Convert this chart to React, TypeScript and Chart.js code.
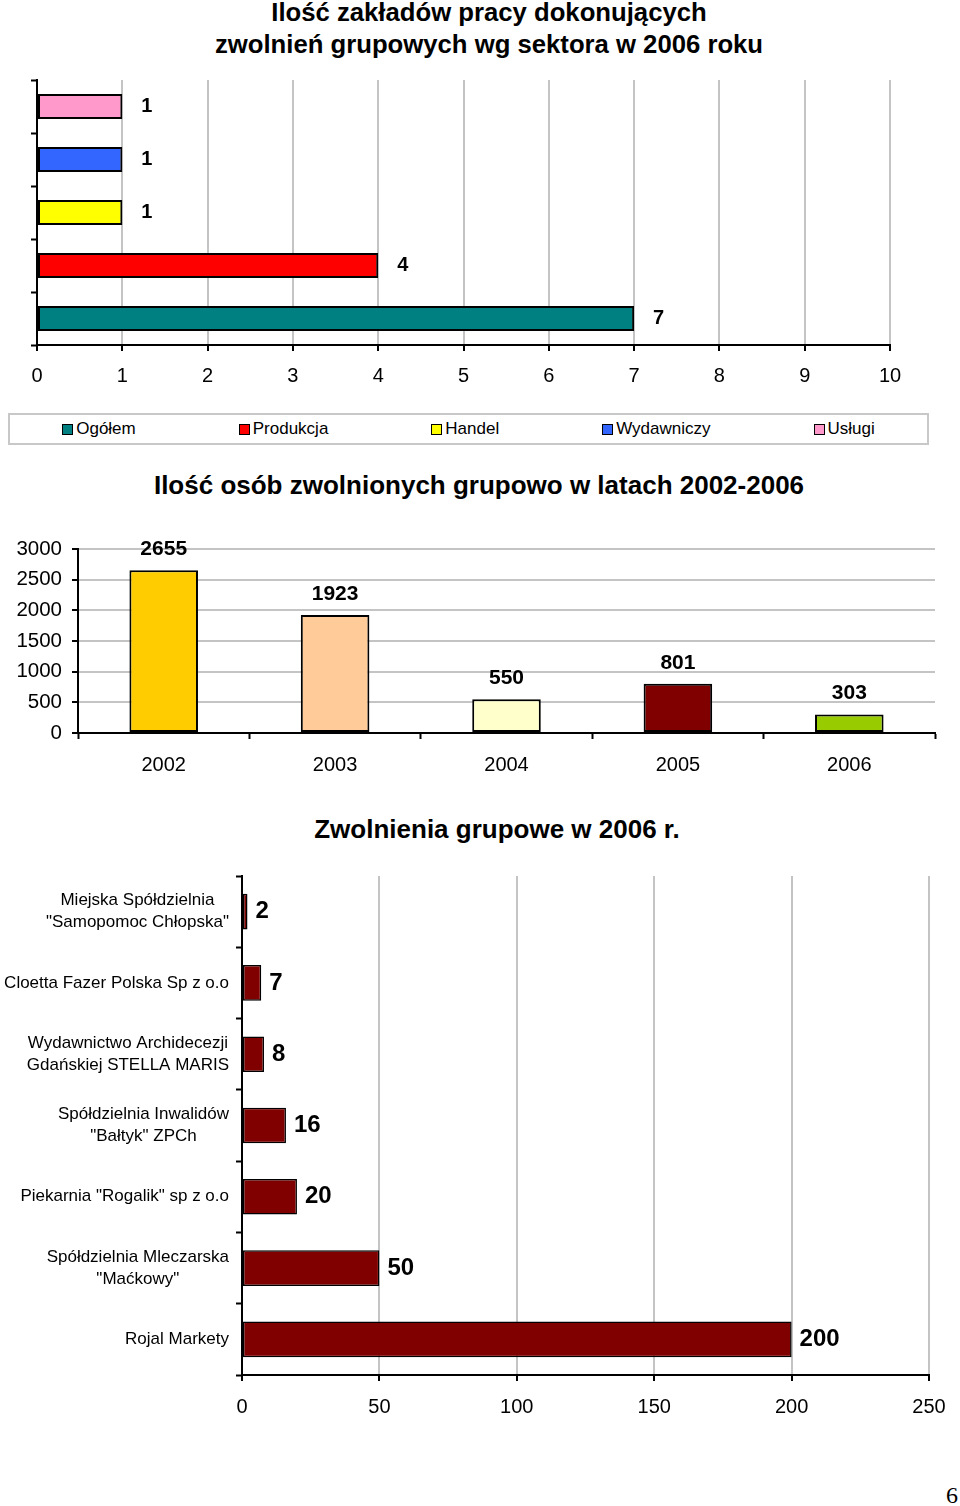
import React, { useEffect, useRef } from "react";
import { Chart, registerables } from "chart.js";

Chart.register(...registerables);

const FONT = "'Liberation Sans', Arial, Helvetica, sans-serif";

// ---- Chart 1: Ilość zakładów pracy wg sektora ----
const sectorTitle = ["Ilość zakładów pracy dokonujących", "zwolnień grupowych wg sektora w 2006 roku"];
const sectorNames = ["Ogółem", "Produkcja", "Handel", "Wydawniczy", "Usługi"];
const sectorValues = [7, 4, 1, 1, 1];
const sectorColors = ["#008080", "#FF0000", "#FFFF00", "#3366FF", "#FF99CC"];
const sectorAxisMax = 10;
const sectorAxisStep = 1;

// ---- Chart 2: Ilość osób zwolnionych 2002-2006 ----
const yearsTitle = "Ilość osób zwolnionych grupowo w latach 2002-2006";
const years = ["2002", "2003", "2004", "2005", "2006"];
const yearValues = [2655, 1923, 550, 801, 303];
const yearColors = ["#FFCC00", "#FFCC99", "#FFFFCC", "#800000", "#99CC00"];
const yearsAxisMax = 3000;
const yearsAxisStep = 500;

// ---- Chart 3: Zwolnienia grupowe w 2006 r. ----
const companiesTitle = "Zwolnienia grupowe w 2006 r.";
const companies: (string | string[])[] = [
  ["Miejska Spółdzielnia", "\"Samopomoc Chłopska\""],
  "Cloetta Fazer Polska Sp z o.o",
  ["Wydawnictwo Archidecezji", "Gdańskiej STELLA MARIS"],
  ["Spółdzielnia Inwalidów", "\"Bałtyk\" ZPCh"],
  "Piekarnia \"Rogalik\" sp z o.o",
  ["Spółdzielnia Mleczarska", "\"Maćkowy\""],
  "Rojal Markety",
];
const companyValues = [2, 7, 8, 16, 20, 50, 200];
const companyColor = "#800000";
const companiesAxisMax = 250;
const companiesAxisStep = 50;

const GRID = "#c4c4c4";

function valueLabels(font: string, horizontal: boolean, offset: number) {
  return {
    id: "valueLabels",
    afterDatasetsDraw(chart: any) {
      const ctx = chart.ctx;
      ctx.save();
      ctx.font = font;
      ctx.fillStyle = "#000";
      ctx.textBaseline = "middle";
      chart.data.datasets.forEach((ds: any, di: number) => {
        const meta = chart.getDatasetMeta(di);
        meta.data.forEach((el: any, i: number) => {
          const v = ds.data[i];
          if (v === null || v === undefined) return;
          if (horizontal) {
            ctx.textAlign = "left";
            ctx.fillText(String(v), el.x + offset, el.y);
          } else {
            ctx.textAlign = "center";
            ctx.fillText(String(v), el.x, el.y - offset);
          }
        });
      });
      ctx.restore();
    },
  };
}

// Multi-line category labels: block right-aligned to the axis, lines centred in the block.
const centredBlockLabels = {
  id: "centredBlockLabels",
  beforeDraw(chart: any) {
    try {
      const s = chart.scales.y;
      const items = s.getLabelItems(chart.chartArea);
      const sizes = s._getLabelSizes();
      const tl = s.options.grid.tickLength;
      const pad = s.options.ticks.padding;
      items.forEach((it: any, i: number) => {
        const w = sizes.widths[i];
        it.options.textAlign = "center";
        it.options.translation = [s.right - tl - pad - w / 2, it.options.translation[1]];
      });
    } catch (e) {
      /* fall back to default alignment */
    }
  },
};

function ChartCanvas({ top, left, width, height, make }: any) {
  const ref = useRef<HTMLCanvasElement | null>(null);
  useEffect(() => {
    const chart = new Chart(ref.current as HTMLCanvasElement, make());
    return () => chart.destroy();
  }, []);
  return (
    <canvas
      ref={ref}
      width={width}
      height={height}
      style={{ position: "absolute", top, left, width, height }}
    />
  );
}

const sectorRows = [...sectorNames].reverse();
const plainNumber = (v: any) => String(v);

function makeSectorChart(): any {
  return {
    type: "bar",
    data: {
      labels: sectorRows,
      datasets: sectorNames.map((name, i) => ({
        label: name,
        data: sectorRows.map((r) => (r === name ? sectorValues[i] : null)),
        backgroundColor: sectorColors[i],
        borderColor: "#000",
        borderWidth: 2,
        borderSkipped: false,
        grouped: false,
        categoryPercentage: 1,
        barPercentage: 0.47,
      })),
    },
    options: {
      indexAxis: "y",
      responsive: false,
      animation: false,
      devicePixelRatio: 1,
      layout: { padding: { top: 10, left: 0, right: 0, bottom: 0 } },
      plugins: { legend: { display: false }, tooltip: { enabled: false }, title: { display: false } },
      scales: {
        x: {
          type: "linear",
          min: 0,
          max: sectorAxisMax,
          ticks: { stepSize: sectorAxisStep, color: "#000", font: { family: FONT, size: 20 }, padding: 13, callback: plainNumber },
          grid: { color: GRID, lineWidth: 2, tickColor: "#000", tickLength: 6, tickWidth: 2 },
          border: { color: "#000", width: 2 },
          afterFit(s: any) {
            s.height = 55;
            s.paddingRight = 70;
            s.paddingLeft = 0;
          },
        },
        y: {
          ticks: { display: false },
          grid: { drawOnChartArea: false, tickColor: "#000", tickLength: 6, tickWidth: 2, offset: true },
          border: { color: "#000", width: 2 },
          afterFit(s: any) {
            s.width = 37;
            s.paddingTop = 0;
            s.paddingBottom = 0;
          },
        },
      },
    },
    plugins: [valueLabels(`bold 20px ${FONT}`, true, 19)],
  };
}

function makeYearsChart(): any {
  return {
    type: "bar",
    data: {
      labels: years,
      datasets: [
        {
          label: yearsTitle,
          data: yearValues,
          backgroundColor: yearColors,
          borderColor: "#000",
          borderWidth: 2,
          borderSkipped: false,
          categoryPercentage: 1,
          barPercentage: 0.4,
        },
      ],
    },
    options: {
      responsive: false,
      animation: false,
      devicePixelRatio: 1,
      layout: { padding: { top: 19, left: 0, right: 0, bottom: 0 } },
      plugins: { legend: { display: false }, tooltip: { enabled: false }, title: { display: false } },
      scales: {
        x: {
          ticks: { color: "#000", font: { family: FONT, size: 20 }, padding: 14 },
          grid: { drawOnChartArea: false, tickColor: "#000", tickLength: 6, tickWidth: 2, offset: true },
          border: { color: "#000", width: 2 },
          afterFit(s: any) {
            s.height = 57;
            s.paddingRight = 25;
            s.paddingLeft = 0;
          },
        },
        y: {
          min: 0,
          max: yearsAxisMax,
          ticks: { stepSize: yearsAxisStep, color: "#000", font: { family: FONT, size: 20.5 }, padding: 10, callback: plainNumber },
          grid: { color: GRID, lineWidth: 2, tickColor: "#000", tickLength: 6, tickWidth: 2 },
          border: { color: "#000", width: 2 },
          afterFit(s: any) {
            s.width = 78;
            s.paddingTop = 0;
            s.paddingBottom = 0;
          },
        },
      },
    },
    plugins: [valueLabels(`bold 21px ${FONT}`, false, 21)],
  };
}

function makeCompaniesChart(): any {
  return {
    type: "bar",
    data: {
      labels: companies,
      datasets: [
        {
          label: companiesTitle,
          data: companyValues,
          backgroundColor: companyColor,
          borderColor: "#000",
          borderWidth: 1.5,
          borderSkipped: false,
          categoryPercentage: 1,
          barPercentage: 0.5,
        },
      ],
    },
    options: {
      indexAxis: "y",
      responsive: false,
      animation: false,
      devicePixelRatio: 1,
      layout: { padding: { top: 16, left: 0, right: 0, bottom: 0 } },
      plugins: { legend: { display: false }, tooltip: { enabled: false }, title: { display: false } },
      scales: {
        x: {
          type: "linear",
          min: 0,
          max: companiesAxisMax,
          ticks: { stepSize: companiesAxisStep, color: "#000", font: { family: FONT, size: 20 }, padding: 14, callback: plainNumber },
          grid: { color: GRID, lineWidth: 2, tickColor: "#000", tickLength: 6, tickWidth: 2 },
          border: { color: "#000", width: 2 },
          afterFit(s: any) {
            s.height = 65;
            s.paddingRight = 31;
            s.paddingLeft = 0;
          },
        },
        y: {
          ticks: { color: "#000", font: { family: FONT, size: 17, lineHeight: 1.3 }, padding: 7 },
          grid: { drawOnChartArea: false, tickColor: "#000", tickLength: 6, tickWidth: 2, offset: true },
          border: { color: "#000", width: 2 },
          afterFit(s: any) {
            s.width = 242;
            s.paddingTop = 0;
            s.paddingBottom = 0;
          },
        },
      },
    },
    plugins: [valueLabels(`bold 24px ${FONT}`, true, 8), centredBlockLabels],
  };
}

const titleStyle: React.CSSProperties = {
  position: "absolute",
  fontFamily: FONT,
  fontWeight: "bold",
  textAlign: "center",
  color: "#000",
  whiteSpace: "nowrap",
};

export default function App() {
  return (
    <div
      style={{
        position: "absolute",
        left: 0,
        top: 0,
        width: 960,
        height: 1506,
        overflow: "hidden",
        background: "#fff",
      }}
    >
      <div style={{ ...titleStyle, left: 18, width: 942, top: -4, fontSize: 25.7, lineHeight: "32px" }}>
        {sectorTitle.map((t) => (
          <div key={t}>{t}</div>
        ))}
      </div>
      <ChartCanvas top={70} left={0} width={960} height={330} make={makeSectorChart} />
      <div
        style={{
          position: "absolute",
          left: 8,
          top: 413,
          width: 921,
          height: 32,
          boxSizing: "border-box",
          border: "2px solid #c8c8c8",
          display: "flex",
          justifyContent: "center",
          alignItems: "center",
          gap: 103,
          fontFamily: FONT,
          fontSize: 17,
          color: "#000",
        }}
      >
        {sectorNames.map((n, i) => (
          <div key={n} style={{ display: "flex", alignItems: "center" }}>
            <span
              style={{
                display: "inline-block",
                width: 11,
                height: 11,
                boxSizing: "border-box",
                border: "1px solid #000",
                background: sectorColors[i],
                marginRight: 3,
              }}
            />
            <span>{n}</span>
          </div>
        ))}
      </div>

      <div style={{ ...titleStyle, left: 0, width: 958, top: 470, fontSize: 26, lineHeight: "30px" }}>{yearsTitle}</div>
      <ChartCanvas top={530} left={0} width={960} height={260} make={makeYearsChart} />

      <div style={{ ...titleStyle, left: 34, width: 926, top: 814, fontSize: 26, lineHeight: "30px" }}>{companiesTitle}</div>
      <ChartCanvas top={860} left={0} width={960} height={580} make={makeCompaniesChart} />

      <div
        style={{
          position: "absolute",
          left: 946,
          top: 1481,
          width: 24,
          fontFamily: "'Liberation Serif', 'DejaVu Serif', serif",
          fontSize: 24,
          lineHeight: "28px",
          color: "#000",
        }}
      >
        6
      </div>
    </div>
  );
}
